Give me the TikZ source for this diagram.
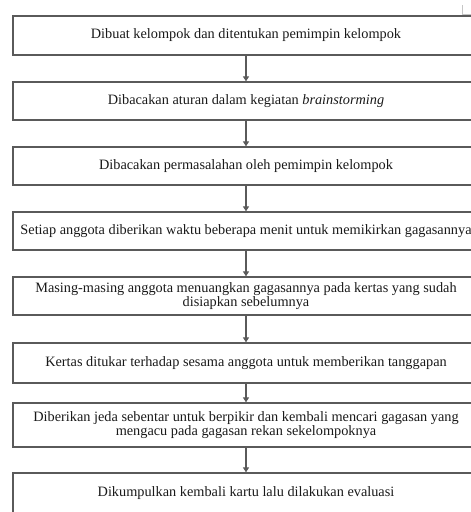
\documentclass[tikz,border=0pt]{standalone}
\usepackage{fontspec}
\setmainfont{Liberation Serif}
\usetikzlibrary{arrows.meta}
\definecolor{linegray}{HTML}{5A5A5A}
\begin{document}
\begin{tikzpicture}[x=1pt,y={(0pt,-1pt)},
  stepbox/.style={draw=linegray, line width=1.3pt, minimum width=466pt, inner sep=0pt, align=center, font=\fontsize{14.3}{14.8}\selectfont, text=black!90},
  flow/.style={draw=linegray, line width=1.2pt, -{Triangle[width=6pt,length=5pt]}}]
\useasboundingbox (0,0) rectangle (471,512);
\node[stepbox, minimum height=39pt] (b1) at (246,35.5) {Dibuat kelompok dan ditentukan pemimpin kelompok};
\node[stepbox, minimum height=38pt] (b2) at (246,101) {Dibacakan aturan dalam kegiatan \textit{brainstorming}};
\node[stepbox, minimum height=38pt] (b3) at (246,166) {Dibacakan permasalahan oleh pemimpin kelompok};
\node[stepbox, minimum height=38pt] (b4) at (246,231) {Setiap anggota diberikan waktu beberapa menit untuk memikirkan gagasannya};
\node[stepbox, minimum height=38pt] (b5) at (246,296) {Masing-masing anggota menuangkan gagasannya pada kertas yang sudah\\disiapkan sebelumnya};
\node[stepbox, minimum height=40pt] (b6) at (246,363) {Kertas ditukar terhadap sesama anggota untuk memberikan tanggapan};
\node[stepbox, minimum height=44pt] (b7) at (246,425) {Diberikan jeda sebentar untuk berpikir dan kembali mencari gagasan yang\\mengacu pada gagasan rekan sekelompoknya};
\node[stepbox, minimum height=40pt] (b8) at (246,493) {Dikumpulkan kembali kartu lalu dilakukan evaluasi};
\foreach \a/\b in {b1/b2,b2/b3,b3/b4,b4/b5,b5/b6,b6/b7,b7/b8}
  \draw[flow] (\a.south) -- (\b.north);
\draw[gray!45, line width=0.8pt] (462,5) -- (462,14) -- (471,14);
\end{tikzpicture}
\end{document}
